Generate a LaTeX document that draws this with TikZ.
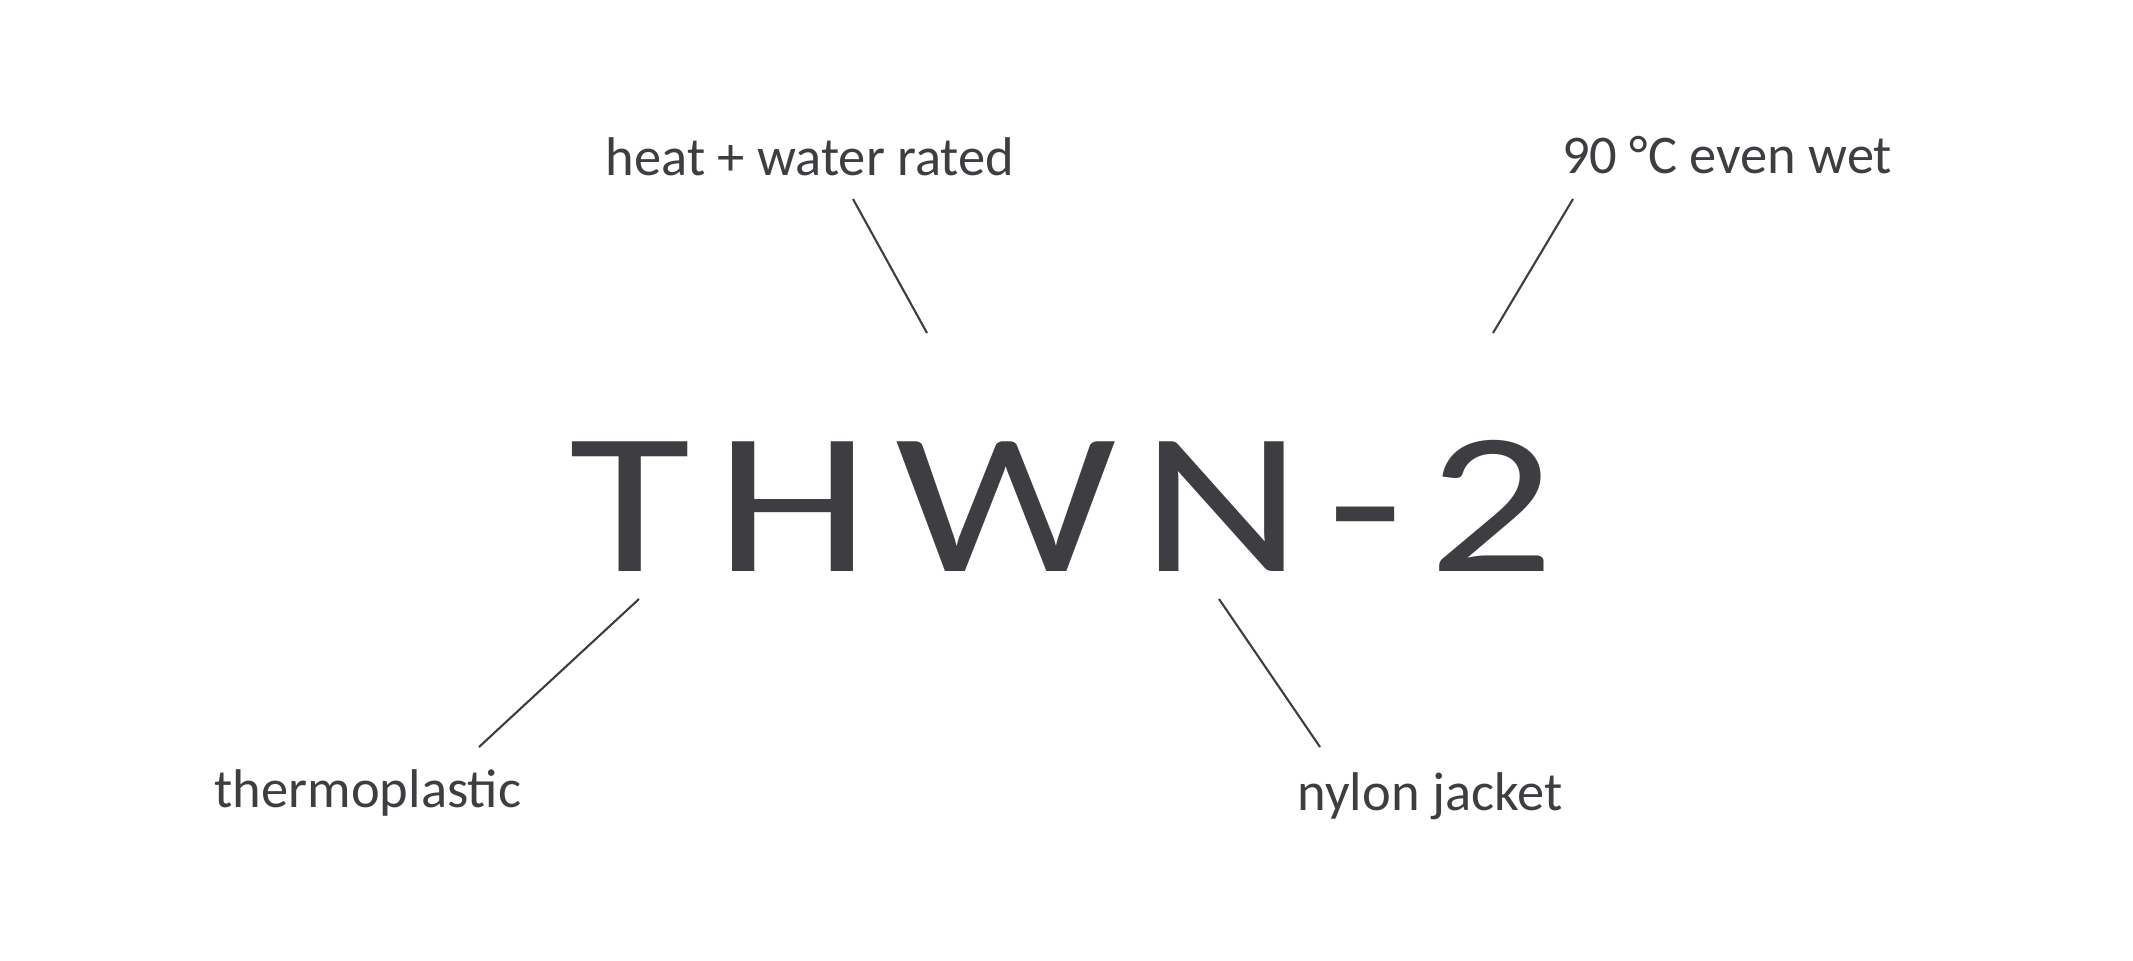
\documentclass[tikz,border=0pt]{standalone}
\usepackage{fontspec}
\setmainfont{Carlito}
\definecolor{ink}{HTML}{3E3D41}
\begin{document}
\begin{tikzpicture}[x=0.01cm, y=-0.01cm,
    note/.style = {anchor=base, inner sep=0pt, text=ink, font=\fontsize{15.5}{18}\selectfont},
    tag/.style = {draw=ink, line width=0.6pt}]
    \useasboundingbox (0,0) rectangle (2133,960); % keep the margins.
    \node[anchor=base, inner sep=0pt, text=ink, xscale=1.23, font=\fontsize{57.5}{60}\selectfont\addfontfeatures{LetterSpace=10}] (code) at (1062,571) {THWN-2};
    \node[note] (heat) at (810,175) {heat + water rated};
    \node[note] (hot) at (1727,173) {90 °C even wet};
    \node[note] (plastic) at (368,807) {thermoplastic};
    \node[note] (nylon) at (1430,810) {nylon jacket};
    \foreach \name/\ax/\ay/\bx/\by in {heat/853/199/927/333, hot/1573/199/1493/333, plastic/479/747/639/599, nylon/1320/747/1219/599} {
      \coordinate (\name-far) at (\ax,\ay); \coordinate (\name-near) at (\bx,\by);
      \draw[tag] (\name-far) -- (\name-near);
    }
\end{tikzpicture}
\end{document}
